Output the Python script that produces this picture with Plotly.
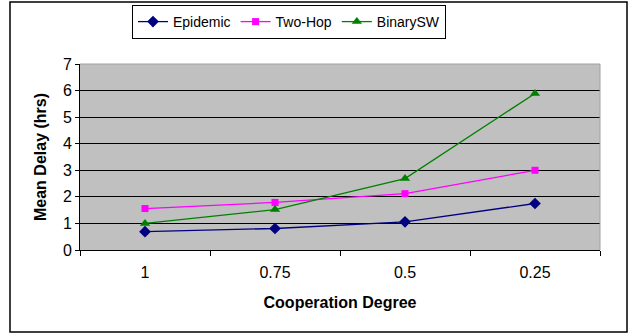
import plotly.graph_objects as go

categories = ["1", "0.75", "0.5", "0.25"]
epidemic = [0.69, 0.81, 1.06, 1.75]
two_hop = [1.56, 1.79, 2.12, 3.0]
binary_sw = [1.0, 1.52, 2.69, 5.89]

FONT = "Liberation Sans, Arial, sans-serif"

fig = go.Figure()
fig.add_trace(go.Scatter(x=categories, y=epidemic, name="Epidemic", mode="lines+markers",
                         line=dict(color="#000080", width=1.3),
                         marker=dict(symbol="diamond", size=9, color="#000080")))
fig.add_trace(go.Scatter(x=categories, y=two_hop, name="Two-Hop", mode="lines+markers",
                         line=dict(color="#FF00FF", width=1.3),
                         marker=dict(symbol="square", size=7, color="#FF00FF")))
fig.add_trace(go.Scatter(x=categories, y=binary_sw, name="BinarySW", mode="lines+markers",
                         line=dict(color="#008000", width=1.3),
                         marker=dict(symbol="triangle-up", size=9, color="#008000")))

W, H = 628, 335
L, R, T, B = 80, 28, 64, 85
pw = W - L - R
ph = H - T - B

def px_x(p):
    return (p - L) / pw

def px_y(p):
    return (H - B - p) / ph

fig.update_layout(
    width=W, height=H,
    margin=dict(l=L, r=R, t=T, b=B, autoexpand=False),
    paper_bgcolor="white",
    plot_bgcolor="#C0C0C0",
    font=dict(family=FONT, size=16, color="black"),
    showlegend=True,
    legend=dict(orientation="h", x=px_x(289), y=px_y(5), xanchor="center", yanchor="top",
                bordercolor="black", borderwidth=1, bgcolor="white",
                font=dict(family=FONT, size=14), itemwidth=30, tracegroupgap=0),
    xaxis=dict(type="category", range=[-0.5, 3.5], tickson="boundaries",
               ticks="outside", ticklen=5, tickcolor="black", ticklabelstandoff=8,
               showline=True, linecolor="black", linewidth=1,
               showgrid=False, zeroline=False, tickfont=dict(size=16),
               title=dict(text="<b>Cooperation Degree</b>", font=dict(size=16), standoff=16)),
    yaxis=dict(range=[0, 7], dtick=1, ticks="outside", ticklen=4, tickcolor="black",
               showline=True, linecolor="black", linewidth=1,
               showgrid=True, gridcolor="black", gridwidth=1, zeroline=False, tickfont=dict(size=16),
               title=dict(text="<b>Mean Delay (hrs)</b>", font=dict(size=16), standoff=12)),
    shapes=[
        dict(type="line", xref="paper", yref="paper", x0=0, x1=1, y0=1, y1=1,
             line=dict(color="#A0A0A0", width=1), layer="above"),
        dict(type="line", xref="paper", yref="paper", x0=1, x1=1, y0=0, y1=1,
             line=dict(color="#A0A0A0", width=1), layer="above"),
        dict(type="rect", xref="paper", yref="paper",
             x0=px_x(10), x1=px_x(627), y0=px_y(332), y1=px_y(2),
             line=dict(color="black", width=1.5), fillcolor="rgba(0,0,0,0)", layer="above"),
    ],
)

fig.write_html("out.html")
